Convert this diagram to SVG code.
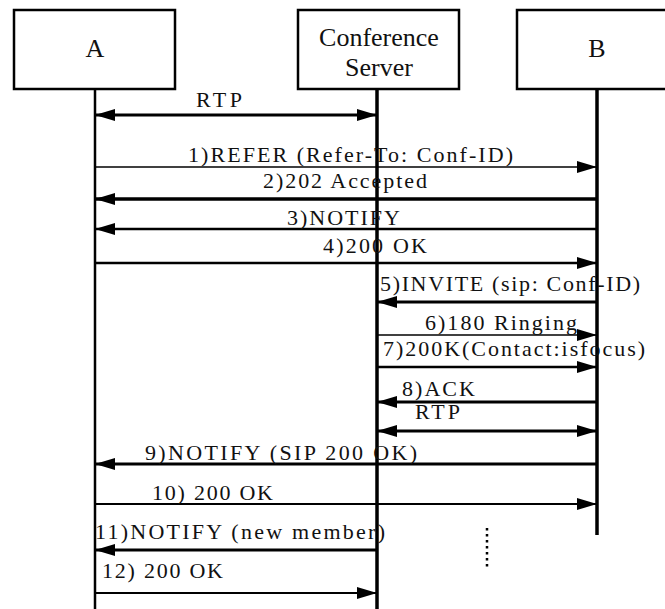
<svg xmlns="http://www.w3.org/2000/svg" width="665" height="609" viewBox="0 0 665 609">
<style>
.box{fill:#fff;stroke:#000;stroke-width:2.5}
.life{stroke:#000;fill:none}
text{font-family:'Liberation Serif','Times New Roman',serif}
.hd{font-size:26px;fill:#111;text-anchor:middle}
.lb{font-size:22px;fill:#111}
.msg{stroke:#000;fill:none}
</style>
<defs>
<marker id="ah" markerUnits="userSpaceOnUse" markerWidth="20" markerHeight="12" refX="20" refY="6" orient="auto-start-reverse" viewBox="0 0 20 12">
<path d="M0,0 L20,6 L0,12 z" fill="#000"/>
</marker>
</defs>
<rect width="665" height="609" fill="#fff"/>
<g id="nodeA">
<rect class="box" x="14" y="10" width="161" height="79"/>
<text class="hd" x="95" y="57">A</text>
<line class="life" x1="95" y1="89" x2="95" y2="609" stroke-width="2.5"/>
</g>
<g id="nodeServer">
<rect class="box" x="298" y="10" width="161" height="79"/>
<text class="hd" x="379" y="46">Conference</text>
<text class="hd" x="379" y="76">Server</text>
<line class="life" x1="377" y1="89" x2="377" y2="609" stroke-width="3.5"/>
</g>
<g id="nodeB">
<rect class="box" x="517" y="10" width="161" height="79"/>
<text class="hd" x="597" y="57">B</text>
<line class="life" x1="597" y1="89" x2="597" y2="535" stroke-width="3.5"/>
</g>
<g id="connectors">
<line class="msg" x1="95" y1="115" x2="377" y2="115" stroke-width="3" marker-start="url(#ah)" marker-end="url(#ah)"/>
<line class="msg" x1="95" y1="167" x2="597" y2="167" stroke-width="1.5" marker-end="url(#ah)"/>
<line class="msg" x1="597" y1="199" x2="95" y2="199" stroke-width="3.5" marker-end="url(#ah)"/>
<line class="msg" x1="597" y1="229" x2="95" y2="229" stroke-width="2.5" marker-end="url(#ah)"/>
<line class="msg" x1="95" y1="263" x2="597" y2="263" stroke-width="2.5" marker-end="url(#ah)"/>
<line class="msg" x1="597" y1="302" x2="377" y2="302" stroke-width="3" marker-end="url(#ah)"/>
<line class="msg" x1="377" y1="335" x2="597" y2="335" stroke-width="1.5" marker-end="url(#ah)"/>
<line class="msg" x1="377" y1="367" x2="597" y2="367" stroke-width="2.5" marker-end="url(#ah)"/>
<line class="msg" x1="597" y1="402" x2="377" y2="402" stroke-width="3" marker-end="url(#ah)"/>
<line class="msg" x1="377" y1="431" x2="597" y2="431" stroke-width="3" marker-start="url(#ah)" marker-end="url(#ah)"/>
<line class="msg" x1="597" y1="464" x2="95" y2="464" stroke-width="3" marker-end="url(#ah)"/>
<line class="msg" x1="95" y1="504" x2="597" y2="504" stroke-width="2" marker-end="url(#ah)"/>
<line class="msg" x1="377" y1="550" x2="95" y2="550" stroke-width="3" marker-end="url(#ah)"/>
<line class="msg" x1="95" y1="593" x2="377" y2="593" stroke-width="2" marker-end="url(#ah)"/>
<line x1="487" y1="528" x2="487" y2="567" stroke="#000" stroke-width="2.5" stroke-dasharray="2.5 3.5"/>
<text class="lb" x="196" y="107" textLength="46" lengthAdjust="spacing">RTP</text>
<text class="lb" x="188" y="162" textLength="325" lengthAdjust="spacing">1)REFER (Refer-To: Conf-ID)</text>
<text class="lb" x="263" y="188" textLength="164" lengthAdjust="spacing">2)202 Accepted</text>
<text class="lb" x="287" y="225" textLength="113" lengthAdjust="spacing">3)NOTIFY</text>
<text class="lb" x="323" y="253" textLength="104" lengthAdjust="spacing">4)200 OK</text>
<text class="lb" x="380" y="291" textLength="260" lengthAdjust="spacing">5)INVITE (sip: Conf-ID)</text>
<text class="lb" x="425" y="330" textLength="152" lengthAdjust="spacing">6)180 Ringing</text>
<text class="lb" x="383" y="356" textLength="262" lengthAdjust="spacing">7)200K(Contact:isfocus)</text>
<text class="lb" x="402" y="396" textLength="73" lengthAdjust="spacing">8)ACK</text>
<text class="lb" x="415" y="419" textLength="45" lengthAdjust="spacing">RTP</text>
<text class="lb" x="145" y="460" textLength="272" lengthAdjust="spacing">9)NOTIFY (SIP 200 OK)</text>
<text class="lb" x="152" y="500" textLength="121" lengthAdjust="spacing">10) 200 OK</text>
<text class="lb" x="95" y="539" textLength="290" lengthAdjust="spacing">11)NOTIFY (new member)</text>
<text class="lb" x="102" y="578" textLength="121" lengthAdjust="spacing">12) 200 OK</text>
</g>
</svg>
